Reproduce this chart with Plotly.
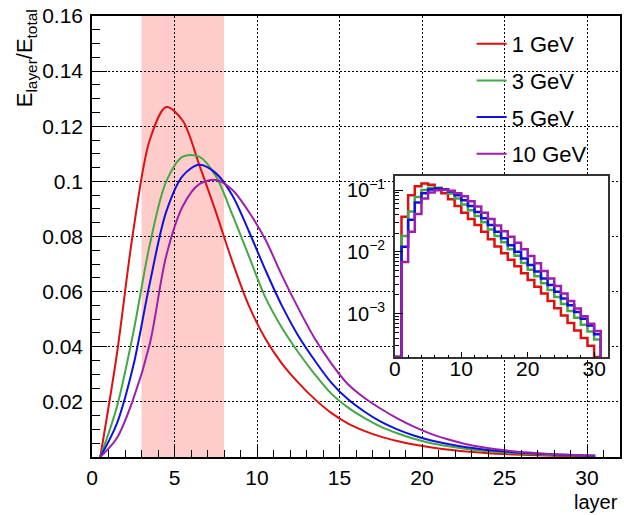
import plotly.graph_objects as go

# ---- data (energy fraction per layer; layer index l covers [l, l+1]) ----
layers = list(range(31))
labels = ["1 GeV", "3 GeV", "5 GeV", "10 GeV"]
colors = ["#dd1111", "#44a844", "#1111dd", "#9c1fae"]

e1 = [0, 0.037, 0.082, 0.115, 0.127, 0.122, 0.106, 0.089, 0.071, 0.055, 0.043,
      0.034, 0.027, 0.021, 0.016, 0.0122, 0.0095, 0.0074, 0.0058, 0.0045, 0.0035,
      0.0027, 0.0021, 0.0016, 0.00122, 0.00093, 0.0007, 0.00053, 0.0004, 0.0003, 0]
e3 = [0, 0.018, 0.045, 0.077, 0.100, 0.109, 0.109, 0.102, 0.088, 0.073, 0.058,
      0.047, 0.038, 0.030, 0.023, 0.018, 0.0142, 0.011, 0.0086, 0.0066, 0.0051,
      0.0040, 0.0031, 0.0024, 0.00185, 0.00143, 0.0011, 0.00085, 0.00066, 0.00051, 0.00038]
e5 = [0, 0.012, 0.033, 0.063, 0.089, 0.102, 0.106, 0.103, 0.095, 0.082, 0.068,
      0.055, 0.044, 0.035, 0.027, 0.021, 0.0165, 0.0128, 0.0100, 0.0078, 0.0061,
      0.0048, 0.0037, 0.0029, 0.00225, 0.00175, 0.00136, 0.00106, 0.00082, 0.00064, 0.00046]
e10 = [0, 0.0068, 0.021, 0.041, 0.073, 0.091, 0.099, 0.1005, 0.097, 0.089, 0.079,
       0.066, 0.054, 0.043, 0.034, 0.0265, 0.0215, 0.0175, 0.014, 0.011, 0.0085,
       0.0065, 0.0049, 0.0037, 0.0028, 0.0021, 0.0016, 0.0012, 0.0009, 0.00068, 0.00052]
series = [e1, e3, e5, e10]

band = [3, 8]                      # highlighted layer range
main_xticks = [0, 5, 10, 15, 20, 25, 30]
main_yticks = [0.02, 0.04, 0.06, 0.08, 0.10, 0.12, 0.14, 0.16]
main_ytext = ["0.02", "0.04", "0.06", "0.08", "0.1", "0.12", "0.14", "0.16"]
inset_xticks = [0, 10, 20, 30]
inset_yticks = [1e-1, 1e-2, 1e-3]
inset_ytext = ["10<sup>\u22121</sup>", "10<sup>\u22122</sup>", "10<sup>\u22123</sup>"]
inset_ylog = [-3.709, -0.773]

FONT = "Liberation Sans, Arial, sans-serif"
floor = 10 ** (inset_ylog[0] + 0.004)

fig = go.Figure()
centers = [l + 0.5 for l in layers]
for lab, col, vals in zip(labels, colors, series):
    fig.add_trace(go.Scatter(x=centers, y=vals, mode="lines", name=lab,
                             legendgroup=lab,
                             line=dict(color=col, width=2, shape="spline", smoothing=0.9),
                             xaxis="x", yaxis="y"))
for lab, col, vals in zip(labels, colors, series):
    hv = [v if v > 0 else floor for v in vals]
    xs = layers + [layers[-1] + 1, layers[-1] + 1]
    ys = hv + [hv[-1], floor]
    fig.add_trace(go.Scatter(x=xs, y=ys, mode="lines", showlegend=False,
                             line=dict(color=col, width=2.5, shape="hv"),
                             xaxis="x2", yaxis="y2"))

grid = dict(showgrid=True, gridcolor="black", gridwidth=1, griddash="2px,2px")
fig.update_layout(
    width=624, height=515,
    margin=dict(l=92, r=2, t=16, b=58),
    paper_bgcolor="white", plot_bgcolor="white",
    font=dict(family=FONT, size=21, color="black"),
    xaxis=dict(domain=[0, 1], range=[0, 32], tickvals=main_xticks,
               ticks="inside", ticklen=13, tickwidth=1, tickcolor="black",
               minor=dict(ticks="inside", dtick=1, ticklen=7, tickcolor="black", showgrid=False),
               showline=True, linecolor="black", linewidth=1.5, mirror=True,
               zeroline=False, tickfont=dict(size=21), ticklabelstandoff=1, **grid),
    yaxis=dict(domain=[0, 1], range=[0, 0.16], tickvals=main_yticks, ticktext=main_ytext,
               ticks="inside", ticklen=15, tickwidth=1, tickcolor="black",
               minor=dict(ticks="inside", dtick=0.005, ticklen=8, tickcolor="black", showgrid=False),
               showline=True, linecolor="black", linewidth=1.5, mirror=True,
               zeroline=False, tickfont=dict(size=21), ticklabelstandoff=3, **grid),
    xaxis2=dict(domain=[0.5736, 0.9774], anchor="y2", range=[0, 32.1], tickvals=inset_xticks,
                ticks="inside", ticklen=6, tickcolor="black",
                minor=dict(ticks="inside", dtick=2, ticklen=3, tickcolor="black"),
                showline=True, linecolor="#333", linewidth=1.5, mirror=True,
                showgrid=False, zeroline=False, tickfont=dict(size=21), ticklabelstandoff=-8),
    yaxis2=dict(domain=[0.2261, 0.6372], anchor="x2", type="log", range=inset_ylog,
                tickvals=inset_yticks, ticktext=inset_ytext,
                ticks="inside", ticklen=8, tickcolor="black",
                minor=dict(ticks="inside", ticklen=4, tickcolor="black",
                           tickvals=[k * 10 ** e for e in (-4, -3, -2, -1) for k in range(2, 10)]),
                showline=True, linecolor="#333", linewidth=1.5, mirror=True,
                showgrid=False, zeroline=False, tickfont=dict(size=20), ticklabelstandoff=4),
    legend=dict(x=0.719, y=0.984, xanchor="left", yanchor="top",
                bgcolor="rgba(0,0,0,0)", borderwidth=0, tracegroupgap=5,
                font=dict(size=22, family=FONT)),
    showlegend=True,
)

fig.add_shape(type="rect", xref="x", yref="y", x0=band[0], x1=band[1], y0=0, y1=0.16,
              fillcolor="#ffcccc", line=dict(width=0), layer="below")
# white pads behind the inset and the legend (hide the grid there)
fig.add_shape(type="rect", xref="paper", yref="paper", x0=(357 - 92) / 530, x1=(617 - 92) / 530,
              y0=(457 - 382) / 441, y1=(457 - 171) / 441,
              fillcolor="white", line=dict(width=0), layer="between")
fig.add_shape(type="rect", xref="paper", yref="paper", x0=(473 - 92) / 530, x1=(617 - 92) / 530,
              y0=(457 - 171) / 441, y1=(457 - 23) / 441,
              fillcolor="white", line=dict(width=0), layer="between")

fig.add_annotation(text="E<sub>layer</sub>/E<sub>total</sub>", textangle=-90,
                   xref="paper", yref="paper", x=(26 - 92) / 530, y=(457 - 7) / 441,
                   xanchor="center", yanchor="top", showarrow=False,
                   font=dict(size=22, family=FONT))
fig.add_annotation(text="layer", xref="paper", yref="paper", x=(622 - 92) / 530,
                   y=(457 - 502) / 441, xanchor="right", yanchor="middle", showarrow=False,
                   font=dict(size=20, family=FONT))

fig.write_html("out.html")
